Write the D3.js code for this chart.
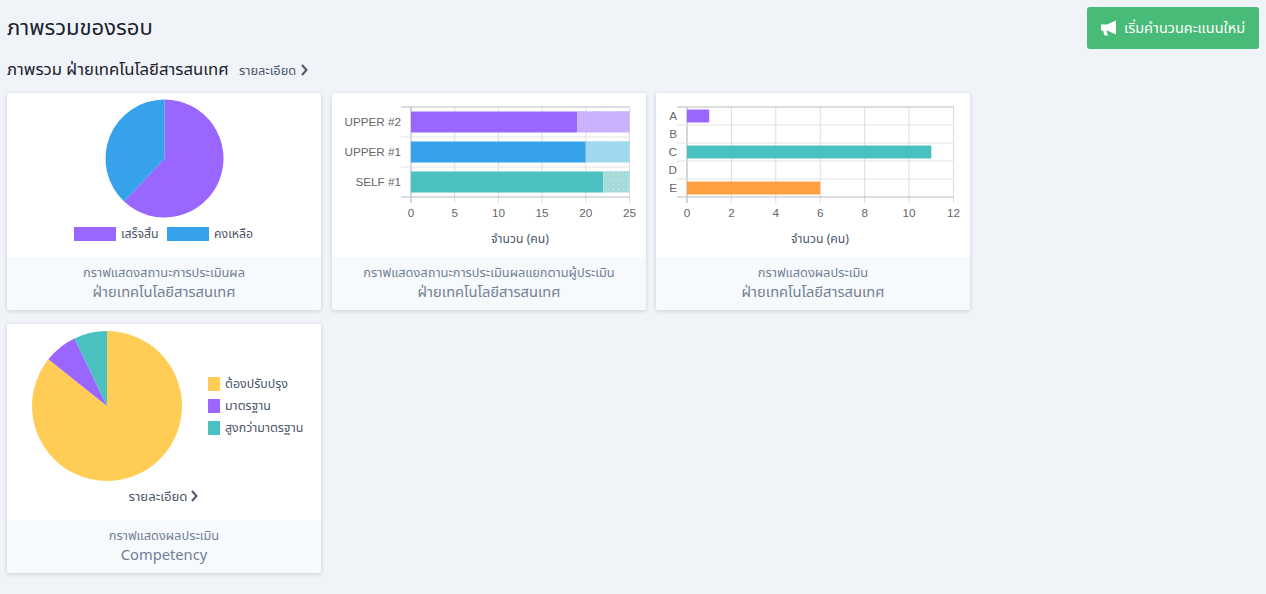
<!DOCTYPE html>
<html>
<head>
<meta charset="utf-8">
<script src="https://cdn.jsdelivr.net/npm/d3@7"></script>
<style>
  html, body { margin: 0; padding: 0; background: #f0f4f8; overflow: hidden; }
  svg { display: block; font-family: "Noto Sans", "Noto Sans Thai", "Noto Sans CJK SC", sans-serif; }
  .tick-label { font-family: "Liberation Sans", Arial, sans-serif; fill: #666; }
  .card { filter: drop-shadow(0 1px 2px rgba(0,0,0,.16)); }
</style>
</head>
<body>
<svg id="page" width="1266" height="594"></svg>
<script>
// pie 1
const statusLabels = ['เสร็จสิ้น', 'คงเหลือ'];
const statusValues = [62, 38];
const statusColors = ['#9966ff', '#36a2eb'];

// stacked bars
const raters = ['UPPER #2', 'UPPER #1', 'SELF #1'];
const raterDone = [19, 20, 22];
const raterLeft = [6, 5, 3];
const raterColors = ['#9966ff', '#36a2eb', '#4bc0c0'];
const raterLight = ['#cbb2ff', '#a1d7ef', '#a5dbdc'];
const raterTicks = [0, 5, 10, 15, 20, 25];

// grades
const grades = ['A', 'B', 'C', 'D', 'E'];
const gradeValues = [1, 0, 11, 0, 6];
const gradeColors = ['#9966ff', '#36a2eb', '#4bc0c0', '#ffcd56', '#ff9f40'];
const gradeTicks = [0, 2, 4, 6, 8, 10, 12];

// pie 2
const compLabels = ['ต้องปรับปรุง', 'มาตรฐาน', 'สูงกว่ามาตรฐาน'];
const compValues = [12, 1, 1];
const compColors = ['#ffcd56', '#9966ff', '#4bc0c0'];

const dark = '#1a202c', muted = '#4a5568', foot = '#718096';
const svg = d3.select('#page');

// dotted fill for the lightest stack segment
svg.append('defs').append('pattern')
  .attr('id', 'dots').attr('width', 5).attr('height', 5)
  .attr('patternUnits', 'userSpaceOnUse')
  .call(p => {
    p.append('rect').attr('width', 5).attr('height', 5).attr('fill', raterLight[2]);
    p.append('circle').attr('cx', 1.5).attr('cy', 1.5).attr('r', .6).attr('fill', '#e4efc0');
  });

function text(g, x, y, str, size, color, anchor) {
  return g.append('text').attr('x', x).attr('y', y)
    .attr('font-size', size).attr('fill', color)
    .attr('text-anchor', anchor || 'start').text(str);
}

function chevron(g, x, y) {
  g.append('path')
    .attr('transform', `translate(${x},${y})`)
    .attr('d', 'M0,-5 L4.5,0 L0,5')
    .attr('fill', 'none').attr('stroke', muted).attr('stroke-width', 2);
}

function card(x, y, h, footTop, line1, line2) {
  const g = svg.append('g').attr('transform', `translate(${x},${y})`);
  g.append('rect').attr('class', 'card').attr('width', 314).attr('height', h).attr('rx', 3).attr('fill', '#fff');
  g.append('path')
    .attr('d', `M0,${footTop}H314V${h - 3}a3,3 0 0 1 -3,3H3a3,3 0 0 1 -3,-3Z`)
    .attr('fill', '#f7fafc');
  text(g, 157, footTop + 20, line1, 12.8, foot, 'middle');
  text(g, 157, footTop + 40, line2, 14.7, foot, 'middle');
  return g;
}

function pie(g, cx, cy, r, values, colors) {
  const arcs = d3.pie().sort(null)(values);
  g.append('g').attr('transform', `translate(${cx},${cy})`)
    .selectAll('path').data(arcs).join('path')
    .attr('d', d3.arc().innerRadius(0).outerRadius(r))
    .attr('fill', (d, i) => colors[i]);
}

function barFrame(g, cats, ticks, maxV, left, right) {
  const plotTop = 14, plotBottom = 104;
  const sx = d3.scaleLinear().domain([0, maxV]).range([left, right]);
  const sy = d3.scaleBand().domain(cats).range([plotTop, plotBottom]);

  const grid = g.append('g');
  grid.selectAll('line.v').data(ticks).join('line').attr('class', 'v')
    .attr('x1', d => sx(d)).attr('x2', d => sx(d))
    .attr('y1', plotTop).attr('y2', plotBottom + 6)
    .attr('stroke', d => d === 0 ? '#a9adb5' : '#dddddd');
  grid.selectAll('line.h').data(d3.range(cats.length + 1)).join('line').attr('class', 'h')
    .attr('x1', left - 10).attr('x2', right)
    .attr('y1', i => plotTop + i * sy.step()).attr('y2', i => plotTop + i * sy.step())
    .attr('stroke', i => i === 0 || i === cats.length ? '#b9bcc2' : '#e2e2e2');

  // axes only carry the labels, the grid above draws the lines
  const ax = g.append('g').attr('transform', `translate(0,${plotBottom + 6})`)
    .call(d3.axisBottom(sx).tickValues(ticks).tickSize(0).tickPadding(6).offset(0));
  const ay = g.append('g').attr('transform', `translate(${left - 10},0)`)
    .call(d3.axisLeft(sy).tickSize(0).tickPadding(0).offset(0));
  [ax, ay].forEach(a => {
    a.select('.domain').remove();
    a.selectAll('text').attr('class', 'tick-label').style('font-size', '11.7px');
  });
  return { sx, sy };
}

// ---- header
text(svg, 7, 35, 'ภาพรวมของรอบ', 22, dark);
text(svg, 7, 75, 'ภาพรวม ฝ่ายเทคโนโลยีสารสนเทศ', 16.7, dark);
text(svg, 239, 75, 'รายละเอียด', 12.8, muted);
chevron(svg, 302, 70);

const btn = svg.append('g').attr('transform', 'translate(1087,7)');
btn.append('rect').attr('width', 172).attr('height', 42).attr('rx', 3).attr('fill', '#48bb78');
btn.append('path')
  .attr('transform', 'translate(14,13.5)')
  .attr('d', 'M0,4 H6 L15,0 V14 L6,10 H5.5 L7,15 H3.5 L2,10 H0 Z')
  .attr('fill', '#fff');
text(btn, 37, 26, 'เริ่มคำนวนคะแนนใหม่', 14.5, '#fff');

// ---- card 1, status pie
const c1 = card(7, 93, 217, 164, 'กราฟแสดงสถานะการประเมินผล', 'ฝ่ายเทคโนโลยีสารสนเทศ');
pie(c1, 157.5, 65.5, 59, statusValues, statusColors);
const legendX1 = d3.scalePoint().domain(statusLabels).range([67, 160]);
statusLabels.forEach((l, i) => {
  c1.append('rect').attr('x', legendX1(l)).attr('y', 134).attr('width', 42).attr('height', 14).attr('fill', statusColors[i]);
  text(c1, legendX1(l) + 47, 145, l, 12.3, muted);
});

// ---- card 2, stacked bars
const c2 = card(332, 93, 217, 164, 'กราฟแสดงสถานะการประเมินผลแยกตามผู้ประเมิน', 'ฝ่ายเทคโนโลยีสารสนเทศ');
const f2 = barFrame(c2, raters, raterTicks, 25, 79, 297.5);
const barH2 = f2.sy.step() * 0.7;
raters.forEach((r, i) => {
  const by = f2.sy(r) + (f2.sy.step() - barH2) / 2;
  const x0 = f2.sx(raterDone[i]), x1 = f2.sx(raterDone[i] + raterLeft[i]);
  c2.append('rect').attr('x', f2.sx(0)).attr('y', by)
    .attr('width', x0 - f2.sx(0)).attr('height', barH2).attr('fill', raterColors[i]);
  c2.append('rect').attr('x', x0).attr('y', by)
    .attr('width', x1 - x0).attr('height', barH2)
    .attr('fill', i === 2 ? 'url(#dots)' : raterLight[i]);
  // dotted edge on top of the remaining part
  c2.append('line').attr('x1', x0).attr('x2', x1).attr('y1', by).attr('y2', by)
    .attr('stroke', raterLight[i]).attr('stroke-dasharray', '1.5 1.5');
});
text(c2, 188, 150, 'จำนวน (คน)', 12.2, muted, 'middle');

// ---- card 3, grades
const c3 = card(656, 93, 217, 164, 'กราฟแสดงผลประเมิน', 'ฝ่ายเทคโนโลยีสารสนเทศ');
const f3 = barFrame(c3, grades, gradeTicks, 12, 31, 297.5);
const barH3 = f3.sy.step() * 0.72;
c3.selectAll('rect.grade').data(grades).join('rect').attr('class', 'grade')
  .attr('x', f3.sx(0))
  .attr('y', d => f3.sy(d) + (f3.sy.step() - barH3) / 2)
  .attr('width', (d, i) => f3.sx(gradeValues[i]) - f3.sx(0))
  .attr('height', barH3)
  .attr('fill', (d, i) => gradeColors[i]);
text(c3, 164, 150, 'จำนวน (คน)', 12.2, muted, 'middle');

// ---- card 4, competency pie
const c4 = card(7, 324, 249, 196, 'กราฟแสดงผลประเมิน', 'Competency');
pie(c4, 100, 82, 75, compValues, compColors);
const legendY4 = d3.scalePoint().domain(compLabels).range([60, 104]);
compLabels.forEach((l, i) => {
  c4.append('rect').attr('x', 201).attr('y', legendY4(l) - 7).attr('width', 12).attr('height', 14).attr('fill', compColors[i]);
  text(c4, 218, legendY4(l) + 4, l, 12.4, muted);
});
text(c4, 151, 177, 'รายละเอียด', 13.2, muted, 'middle');
chevron(c4, 185, 172);
</script>
</body>
</html>
